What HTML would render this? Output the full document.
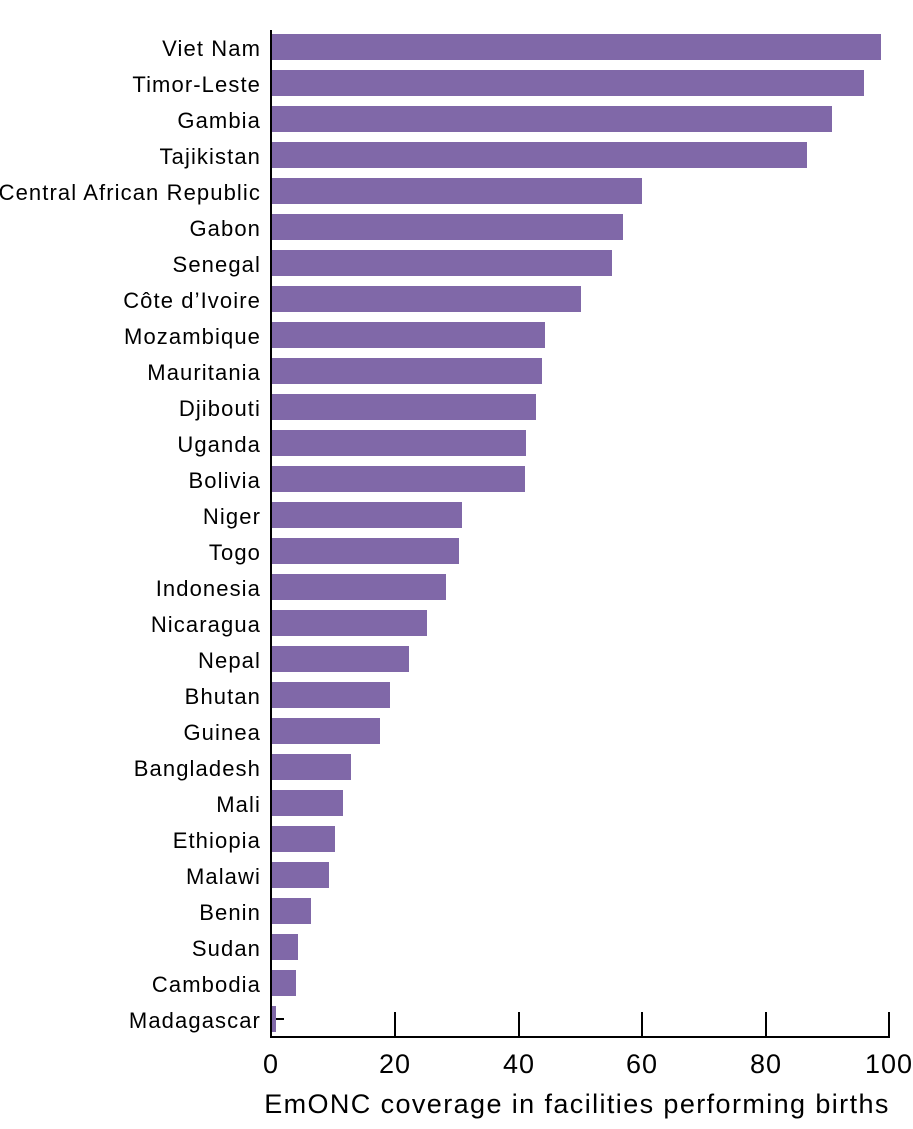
<!DOCTYPE html>
<html><head><style>body{margin:0;background:#fff}</style></head><body>
<svg width="913" height="1124" xmlns="http://www.w3.org/2000/svg" font-family="Liberation Sans, sans-serif">
<g fill="#8068a8">
<rect x="271" y="34" width="610" height="26"/>
<rect x="271" y="70" width="593" height="26"/>
<rect x="271" y="106" width="561" height="26"/>
<rect x="271" y="142" width="536" height="26"/>
<rect x="271" y="178" width="371" height="26"/>
<rect x="271" y="214" width="352" height="26"/>
<rect x="271" y="250" width="341" height="26"/>
<rect x="271" y="286" width="310" height="26"/>
<rect x="271" y="322" width="274" height="26"/>
<rect x="271" y="358" width="271" height="26"/>
<rect x="271" y="394" width="265" height="26"/>
<rect x="271" y="430" width="255" height="26"/>
<rect x="271" y="466" width="254" height="26"/>
<rect x="271" y="502" width="191" height="26"/>
<rect x="271" y="538" width="188" height="26"/>
<rect x="271" y="574" width="175" height="26"/>
<rect x="271" y="610" width="156" height="26"/>
<rect x="271" y="646" width="138" height="26"/>
<rect x="271" y="682" width="119" height="26"/>
<rect x="271" y="718" width="109" height="26"/>
<rect x="271" y="754" width="80" height="26"/>
<rect x="271" y="790" width="72" height="26"/>
<rect x="271" y="826" width="64" height="26"/>
<rect x="271" y="862" width="58" height="26"/>
<rect x="271" y="898" width="40" height="26"/>
<rect x="271" y="934" width="27" height="26"/>
<rect x="271" y="970" width="25" height="26"/>
<rect x="271" y="1006" width="5" height="26"/>
</g>
<g stroke="#000" stroke-width="2">
<line x1="271" y1="30" x2="271" y2="1037"/>
<line x1="270" y1="1037" x2="890" y2="1037"/>
<line x1="395" y1="1012" x2="395" y2="1037"/>
<line x1="519" y1="1012" x2="519" y2="1037"/>
<line x1="642" y1="1012" x2="642" y2="1037"/>
<line x1="766" y1="1012" x2="766" y2="1037"/>
<line x1="889" y1="1012" x2="889" y2="1037"/>
<line x1="276" y1="1019" x2="284" y2="1019"/>
</g>
<g font-size="22" letter-spacing="1.1" text-anchor="end" fill="#000">
<text x="261" y="56">Viet Nam</text>
<text x="261" y="92">Timor-Leste</text>
<text x="261" y="128">Gambia</text>
<text x="261" y="164">Tajikistan</text>
<text x="261" y="200">Central African Republic</text>
<text x="261" y="236">Gabon</text>
<text x="261" y="272">Senegal</text>
<text x="261" y="308">Côte d’Ivoire</text>
<text x="261" y="344">Mozambique</text>
<text x="261" y="380">Mauritania</text>
<text x="261" y="416">Djibouti</text>
<text x="261" y="452">Uganda</text>
<text x="261" y="488">Bolivia</text>
<text x="261" y="524">Niger</text>
<text x="261" y="560">Togo</text>
<text x="261" y="596">Indonesia</text>
<text x="261" y="632">Nicaragua</text>
<text x="261" y="668">Nepal</text>
<text x="261" y="704">Bhutan</text>
<text x="261" y="740">Guinea</text>
<text x="261" y="776">Bangladesh</text>
<text x="261" y="812">Mali</text>
<text x="261" y="848">Ethiopia</text>
<text x="261" y="884">Malawi</text>
<text x="261" y="920">Benin</text>
<text x="261" y="956">Sudan</text>
<text x="261" y="992">Cambodia</text>
<text x="261" y="1028">Madagascar</text>
</g>
<g font-size="27" letter-spacing="1" text-anchor="middle" fill="#000">
<text x="271" y="1073">0</text>
<text x="395" y="1073">20</text>
<text x="519" y="1073">40</text>
<text x="642" y="1073">60</text>
<text x="766" y="1073">80</text>
<text x="889" y="1073">100</text>
<text x="577" y="1113" letter-spacing="1.4">EmONC coverage in facilities performing births</text>
</g>
</svg>
</body></html>
